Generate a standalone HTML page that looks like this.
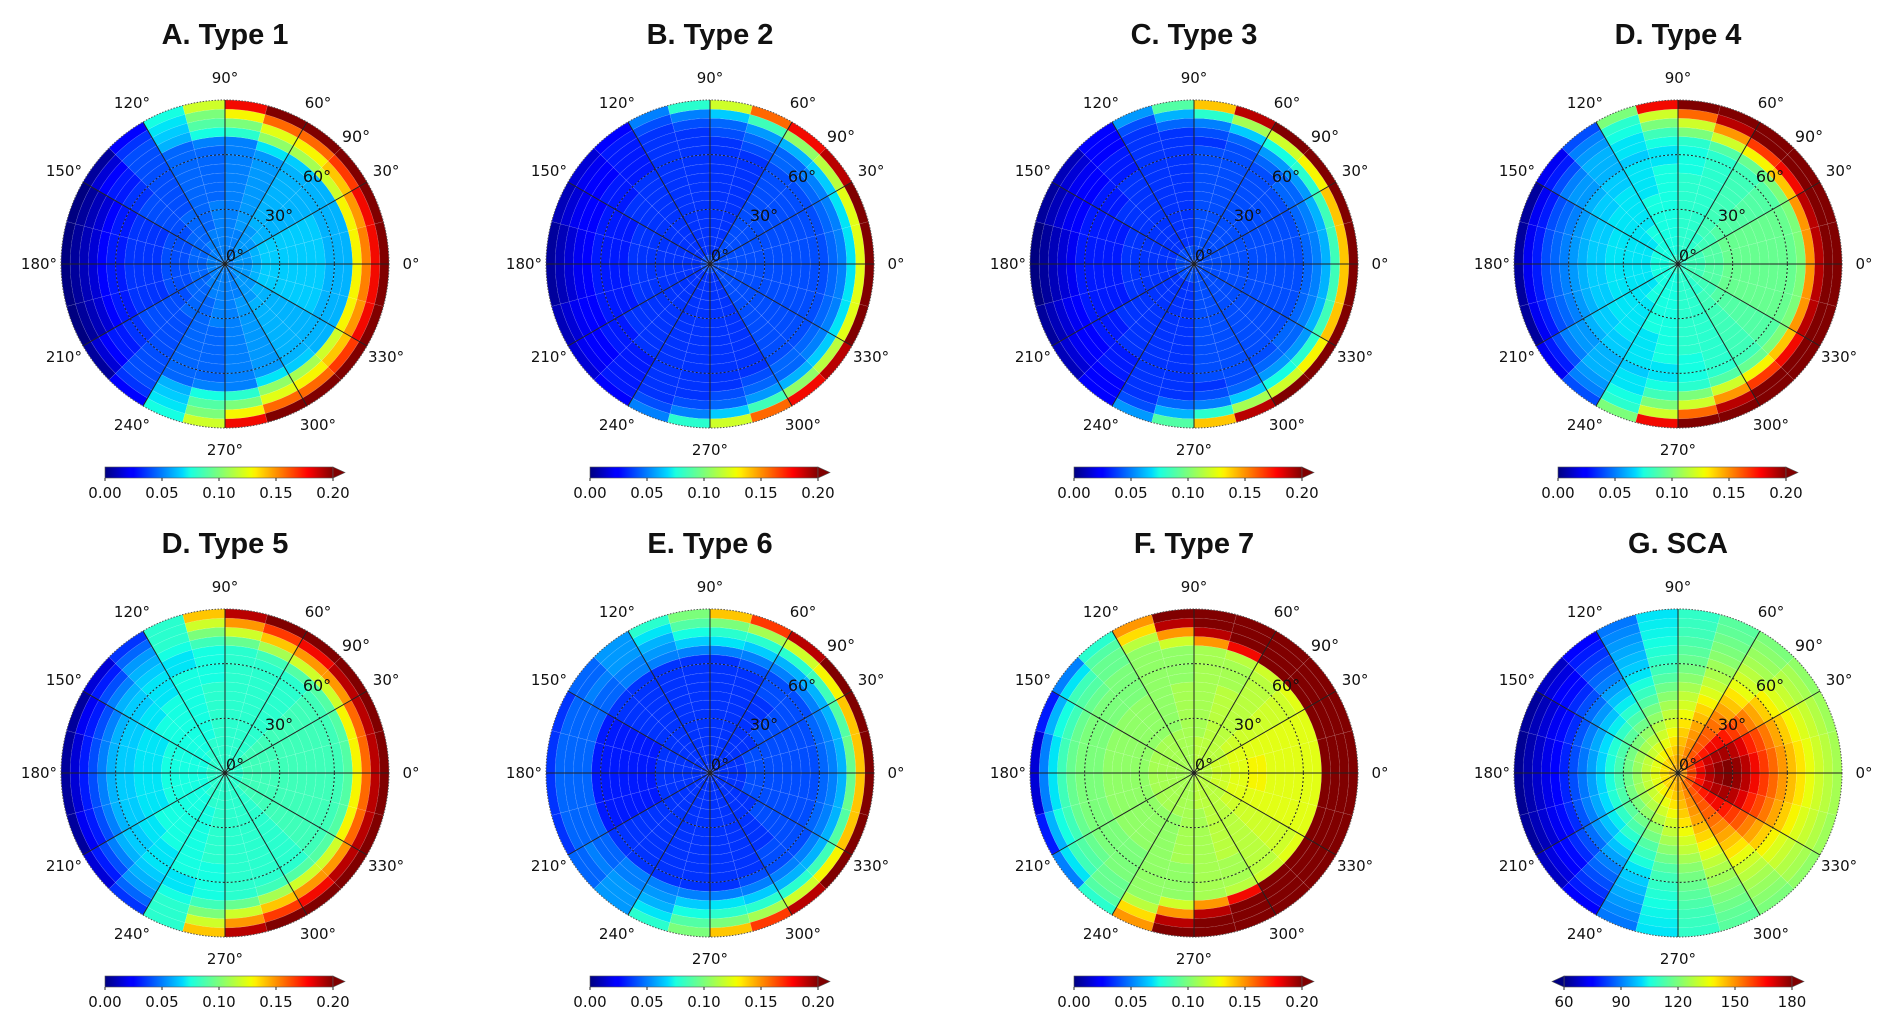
<!DOCTYPE html>
<html><head><meta charset="utf-8">
<style>
html,body{margin:0;padding:0;background:#fff;}
svg{display:block;}
text{font-family:"DejaVu Sans","Liberation Sans",sans-serif;fill:#111;}
.ttl{font-family:"Liberation Sans",sans-serif;}
</style></head>
<body>
<svg id="fig" width="1892" height="1028" viewBox="0 0 1892 1028" xmlns="http://www.w3.org/2000/svg">
<defs>
<linearGradient id="jet" x1="0" x2="1" y1="0" y2="0">
<stop offset="0" stop-color="#000080"/><stop offset="0.11" stop-color="#0000ff"/>
<stop offset="0.125" stop-color="#0000ff"/><stop offset="0.34" stop-color="#00d8ff"/>
<stop offset="0.375" stop-color="#1affe0"/><stop offset="0.5" stop-color="#7cff7a"/>
<stop offset="0.64" stop-color="#f0ff00"/><stop offset="0.66" stop-color="#ffee00"/>
<stop offset="0.89" stop-color="#ff0000"/><stop offset="1" stop-color="#800000"/>
</linearGradient>
</defs>
</svg>
<script>
// ring edges (zenith angle, degrees) and azimuth sector width
const ringEdges = [0,5,10,15,20,25,30,35,40,45,50,55,60,65,70,75,80,85,90];
const sectorWidth = 15;
const angleTicks = [0,30,60,90,120,150,180,210,240,270,300,330];
const radialTicks = ["0°","30°","60°","90°"];
const typeTicks = ["0.00","0.05","0.10","0.15","0.20"];
const scaTicks = ["60","90","120","150","180"];
const titles = ["A. Type 1","B. Type 2","C. Type 3","D. Type 4","D. Type 5","E. Type 6","F. Type 7","G. SCA"];

// values (hundredths for types), rows = rings, cols = sectors 0-15°,...,165-180° (mirrored for lower half)
const dataA = [
[5,5,5,5,5,5,5,5,5,5,5,5],
[5.5,5.5,5.5,5,5,5,5,5,5,5,5,5],
[5.5,5.5,5.5,5.5,5,5,5,5,5,4.5,4.5,4.5],
[6,6,5.5,5.5,5,5,5,5,4.5,4.5,4.5,4.5],
[6.5,6.5,6,5.5,5.5,5,5,4.5,4.5,4.5,4,4],
[6.5,6.5,6,6,5.5,5,5,4.5,4.5,4,4,4],
[6.5,6.5,6,6,5.5,5,5,4.5,4.5,4,4,4],
[6.5,6.5,6,6,5.5,5,4.5,4.5,4,4,3.5,3.5],
[6.5,6.5,6,6,5.5,5,4.5,4.5,4,4,3.5,3.5],
[6.5,6.5,6,6,5.5,5,4.5,4.5,4,4,3.5,3.5],
[6.5,6.5,6,6,5.5,5,4.5,4.5,4,4,3.5,3.5],
[6,6,6,6,5.5,5,4.5,4.5,4,3.5,3,3],
[6,6,6,6,5.5,5,4.5,4.5,4,3.5,3,3],
[6,6,6,6.5,7,5,5,4.5,4,3,2.5,2.5],
[13,13,12,11,10.5,8,7.5,6,4,3,1.5,1.5],
[15.5,15,14,13,12.5,10,9,6.5,4,2.5,1,1],
[18,18,17,16,16,13,10,7,3.5,1.5,0.5,0.5],
[22,22,22,22,21,18,12,7.5,2.5,0.5,0,0]];
const dataB = [
[4,4,4,4,4,4,4,4,4,4,4,4],
[4,4,4,4,3.5,3.5,3.5,3.5,3.5,3.5,3.5,3.5],
[4,4,4,4,3.5,3.5,3.5,3.5,3.5,3.5,3.5,3.5],
[4,4,4,4,3.5,3.5,3.5,3.5,3.5,3.5,3.5,3.5],
[4,4,4,4,3.5,3.5,3.5,3.5,3.5,3.5,3.5,3.5],
[4,4,4,4,3.5,3.5,3.5,3.5,3.5,3.5,3.5,3.5],
[4,4,4,4,3.5,3.5,3.5,3.5,3.5,3.5,3.5,3.5],
[4,4,4,4,3.5,3.5,3.5,3.5,3.5,3.5,3.5,3.5],
[4,4,4,4,3.5,3.5,3.5,3.5,3.5,3.5,3.5,3.5],
[4,4,4,4,3.5,3.5,3.5,3.5,3.5,3.5,3,3],
[4,4,4,4,3.5,3.5,3.5,3.5,3.5,3.5,3,3],
[4,4,4,4,3.5,3.5,3.5,3.5,3.5,3,3,3],
[4,4,4,4,3.5,3.5,3.5,3.5,3,3,3,3],
[4.5,4.5,4.5,4.5,4,3.5,3.5,3.5,3,3,2.5,2.5],
[5,5,5,4.5,4.5,4,3.5,3.5,3,2.5,2.5,2],
[7,7,6.5,6,5.5,4.5,4,3.5,3,2.5,2,1.5],
[12.5,12.5,11.5,10.5,8.5,6.5,5,4,3,2,1.5,1],
[20,20,19,18,16,12,8,5,2.5,1.5,1,0.5]];
const dataC = [
[4,4,4,4,4,4,4,4,4,4,4,4],
[4,4,4,4,4,4,4,4,4,4,4,4],
[4,4,4,4,4,4,3.5,3.5,3.5,3.5,3.5,3.5],
[4,4,4,4,4,4,3.5,3.5,3.5,3.5,3.5,3.5],
[4,4,4,4,4,4,3.5,3.5,3.5,3.5,3.5,3.5],
[4,4,4,4,4,4,3.5,3.5,3.5,3.5,3.5,3.5],
[4,4,4,4,4,4,3.5,3.5,3.5,3.5,3.5,3.5],
[4,4,4,4,4,4,3.5,3.5,3.5,3.5,3.5,3.5],
[4,4,4,4,4,4,3.5,3.5,3.5,3.5,3,3],
[4,4,4,4,4,4,3.5,3.5,3.5,3.5,3,3],
[4,4,4,4,4,4,3.5,3.5,3.5,3,3,3],
[4,4,4,4,4,4,3.5,3.5,3.5,3,3,3],
[4.5,4.5,4.5,4,4,4,3.5,3.5,3,3,3,3],
[5,5,4.5,4.5,4,3.5,3.5,3.5,3,2.5,2.5,2],
[6,6,5.5,5.5,4.5,4,3.5,3.5,3,2.5,2,1.5],
[8.5,8.5,8,7.5,6.5,5,4.5,3.5,2.5,2,1.5,1],
[14,14,13,12,11,8,6,4,2.5,1.5,1,0.5],
[21,21,21,20,19,14,9,5.5,2.5,1,0.5,0]];
const dataD = [
[8,8,8,8,8,8,8,8,8,8,8,8],
[8.5,8.5,8.5,8,8,8,7.5,7.5,7.5,7.5,7.5,7.5],
[8.5,8.5,8.5,8,8,8,7.5,7.5,7.5,7.5,7.5,7.5],
[9,9,8.5,8,8,8,7.5,7.5,7.5,7,7,7],
[9,9,8.5,8.5,8,8,7.5,7.5,7.5,7,7,7],
[9.5,9.5,9,8.5,8,8,7.5,7.5,7,7,7,7],
[9.5,9.5,9,8.5,8,8,7.5,7.5,7,7,7,7],
[9.5,9.5,9,8.5,8,8,7.5,7.5,7,7,7,7],
[9.5,9.5,9,8.5,8,8,7.5,7,7,7,6.5,6.5],
[9.5,9.5,9,8.5,8,8,7.5,7,7,6.5,6.5,6.5],
[9.5,9.5,9,8.5,8,7.5,7.5,7,6.5,6.5,6,6],
[9.5,9.5,9,8.5,8,7.5,7,7,6.5,6,5.5,5.5],
[9.5,9.5,9,8.5,8,7.5,7,6.5,6,5.5,5,5],
[10,10,10,9.5,9,8,7.5,7,6,5.5,4.5,4.5],
[15,15,14,13,12,10,8.5,7,6,5,4,4],
[19,19,18,17,15,12,10,7.5,5.5,4,3,3],
[21,21,21,20,19,16,12,8,5,3,2,2],
[22,22,22,22,22,21,18,10,4,2,0.5,0.5]];
const dataE5 = [
[8,8,8,8,8,8,8,8,8,8,8,8],
[8,8,8,8,8,8,8,8,8,8,8,8],
[8.5,8.5,8.5,8,8,8,8,8,8,7.5,7.5,7.5],
[8.5,8.5,8.5,8,8,8,8,8,7.5,7.5,7.5,7.5],
[8.5,8.5,8.5,8,8,8,8,7.5,7.5,7.5,7.5,7.5],
[8.5,8.5,8.5,8,8,8,8,7.5,7.5,7.5,7.5,7.5],
[8.5,8.5,8.5,8,8,8,8,7.5,7.5,7.5,7.5,7.5],
[8.5,8.5,8.5,8,8,8,8,7.5,7.5,7.5,7,7],
[8.5,8.5,8.5,8,8,8,8,7.5,7.5,7.5,7,7],
[8.5,8.5,8.5,8,8,8,8,7.5,7.5,7,7,7],
[8.5,8.5,8.5,8,8,8,7.5,7.5,7,7,6.5,6.5],
[8.5,8.5,8.5,8,8,8,7.5,7.5,7,6.5,6.5,6.5],
[8.5,8.5,8.5,8,8,8,7.5,7,7,6.5,6,6],
[9,9,9,9,8.5,8,7.5,7,6.5,6,5,5],
[13,13,12,12,11,9.5,8.5,7.5,6,5,4,4],
[16,16,15,15,14,12,10,8,5.5,4,3,3],
[19,19,19,18,17,15,12,8,4.5,3,2,1.5],
[22,22,22,22,21,19,14,8,3.5,1.5,0.5,0.5]];
const dataF6 = [
[3.5,3.5,3.5,3.5,3.5,3.5,3.5,3.5,3.5,3.5,3.5,3.5],
[3.5,3.5,3.5,3.5,3.5,3.5,3.5,3.5,3.5,3.5,3.5,3.5],
[3.5,3.5,3.5,3.5,3.5,3.5,3.5,3.5,3.5,3.5,3.5,3.5],
[3.5,3.5,3.5,3.5,3.5,3.5,3.5,3.5,3.5,3.5,3.5,3.5],
[4,4,3.5,3.5,3.5,3.5,3.5,3.5,3.5,3.5,3.5,3.5],
[4,4,3.5,3.5,3.5,3.5,3.5,3.5,3.5,3.5,3.5,3.5],
[4,4,4,3.5,3.5,3.5,3.5,3.5,3.5,3.5,3,3],
[4,4,4,3.5,3.5,3.5,3.5,3.5,3.5,3.5,3,3],
[4,4,4,3.5,3.5,3.5,3.5,3.5,3.5,3.5,3,3],
[4,4,4,3.5,3.5,3.5,3.5,3.5,3.5,3.5,3,3],
[4,4,4,4,3.5,3.5,3.5,3.5,3.5,3.5,3,3],
[4,4,4,4,3.5,3.5,3.5,3.5,3.5,3.5,3,3],
[4.5,4.5,4,4,4,3.5,3.5,3.5,3.5,3.5,3,3],
[5,5,5,5,5,5,5,5,5,4.5,4.5,4.5],
[6,6,6,6,6.5,7,6.5,5.5,5,4.5,4.5,4.5],
[9.5,9,8.5,8,8,8,7.5,6,5.5,5,4.5,4.5],
[14,14,13,12,11,10,9,7,5.5,4.5,4.5,4.5],
[21,21,20,19,17,14,10,8,5.5,4.5,3.5,3.5]];
const dataG7 = [
[11.5,11.5,11.5,11.5,11.5,11.5,11,11,11,11,11,11],
[11.5,11.5,11.5,11.5,11.5,11.5,11,11,11,11,11,11],
[12,12,11.5,11.5,11.5,11.5,11,11,11,11,11,11],
[12,12,11.5,11.5,11.5,11.5,11,11,11,11,11,11],
[12.5,12.5,12,11.5,11.5,11,11,11,11,11,11,11],
[12.5,12.5,12,11.5,11.5,11,11,10.5,10.5,10.5,10.5,10.5],
[13,12.5,12,11.5,11.5,11,11,10.5,10.5,10.5,10.5,10.5],
[13,12.5,12,11.5,11.5,11,11,10.5,10.5,10.5,10.5,10.5],
[12.5,12.5,12,11.5,11.5,11,11,10.5,10.5,10.5,10.5,10.5],
[12.5,12.5,12,11.5,11.5,11,11,10.5,10.5,10.5,10.5,10.5],
[12.5,12.5,12,11.5,11,11,10.5,10.5,10,10,10,10],
[12.5,12.5,12,11.5,11,11,10.5,10.5,10,10,10,10],
[12.5,12.5,12,11.5,11,11,10.5,10.5,10,10,10,10],
[12.5,12.5,12.5,12,11.5,11,10.5,10.5,10,9.5,9.5,9.5],
[22,22,21,20,18,15,12,10.5,9.5,9,8.5,8.5],
[22,22,22,22,21,19,15,11.5,9.5,8.5,7.5,7],
[22,22,22,22,22,21,19,13.5,9,7,6,5],
[22,22,22,22,22,22,21,15,8,5,3,1.5]];
// SCA in degrees
const dataSCA = [
[150,150,150,150,150,148,148,146,146,145,145,145],
[160,160,158,155,152,148,146,144,142,141,140,140],
[168,167,163,158,152,147,143,140,138,136,135,135],
[174,172,166,158,151,145,140,136,133,131,130,130],
[178,175,168,158,150,143,137,132,128,126,125,124],
[180,176,168,157,148,140,133,128,123,120,119,118],
[178,174,166,155,145,137,130,123,118,115,113,112],
[174,170,162,152,142,133,126,119,113,109,107,106],
[168,165,158,148,138,130,122,114,108,103,101,100],
[162,160,153,144,134,126,118,110,103,98,95,94],
[156,154,148,140,130,122,114,106,98,93,90,89],
[150,148,143,136,127,119,111,102,94,88,85,84],
[145,143,138,132,125,117,109,99,90,84,80,79],
[140,138,134,129,122,115,107,97,87,80,76,75],
[136,134,131,126,120,113,105,95,84,76,72,71],
[132,131,128,124,118,111,104,93,81,73,69,68],
[129,128,126,122,116,110,103,91,78,70,66,65],
[126,125,123,120,115,109,102,89,75,67,63,62]];

const panelData = [dataA,dataB,dataC,dataD,dataE5,dataF6,dataG7,dataSCA];
const colX = [225,710,1194,1678];
const rowY = [264,773];
const R = 164;
const svg = document.getElementById('fig');
const NS = "http://www.w3.org/2000/svg";

// matplotlib 'jet' segment data
const jetR = [[0,0],[0.35,0],[0.66,1],[0.89,1],[1,0.5]];
const jetG = [[0,0],[0.125,0],[0.375,1],[0.64,1],[0.91,0],[1,0]];
const jetB = [[0,0.5],[0.11,1],[0.34,1],[0.65,0],[1,0]];
function seg(s,t){ for(let i=1;i<s.length;i++){ if(t<=s[i][0]){ const a=s[i-1],b=s[i]; return a[1]+(b[1]-a[1])*(t-a[0])/(b[0]-a[0]); } } return s[s.length-1][1]; }
function jet(t){
  t = Math.max(0,Math.min(1,t));
  const c = v => Math.round(255*v);
  return `rgb(${c(seg(jetR,t))},${c(seg(jetG,t))},${c(seg(jetB,t))})`;
}
function mk(tag, attrs, parent){
  const e = document.createElementNS(NS, tag);
  for (const k in attrs) e.setAttribute(k, attrs[k]);
  (parent||svg).appendChild(e);
  return e;
}
function rScale(z){ return z / 90 * R; }
function pt(cx,cy,r,deg){ const a = deg*Math.PI/180; return [cx + r*Math.cos(a), cy - r*Math.sin(a)]; }

panelData.forEach((data, p) => {
  const cx = colX[p%4], cy = rowY[Math.floor(p/4)];
  const isSCA = p === 7;
  const vmin = isSCA ? 60 : 0, vmax = isSCA ? 180 : 20;
  const g = mk('g', {});
  
  

  const title = mk('text', {x:cx, y:cy-220, 'text-anchor':'middle', 'font-size':29, 'font-weight':'bold', 'class':'ttl'}, g);
  title.textContent = titles[p];
  
  

  const nSec = 360 / sectorWidth;
  for (let i = 0; i < ringEdges.length-1; i++) {
    const r0 = rScale(ringEdges[i]), r1 = rScale(ringEdges[i+1]);
    for (let k = 0; k < nSec; k++) {
      const j = k < nSec/2 ? k : nSec-1-k;
      const v = data[i][j];
      const a0 = k*sectorWidth, a1 = (k+1)*sectorWidth;
      const p1 = pt(cx,cy,r1,a0), p2 = pt(cx,cy,r1,a1), p3 = pt(cx,cy,r0,a1), p4 = pt(cx,cy,r0,a0);
      const d = `M${p1[0]},${p1[1]} A${r1},${r1} 0 0 0 ${p2[0]},${p2[1]} L${p3[0]},${p3[1]} ` + (r0>0 ? `A${r0},${r0} 0 0 1 ${p4[0]},${p4[1]} Z` : 'Z');
      const cell = mk('path', {d:d, fill:jet((v-vmin)/(vmax-vmin)), stroke:'rgba(255,255,255,0.15)', 'stroke-width':0.6}, g);
      
      
    }
  }
  [30,60].forEach(z => {
    const c = mk('circle', {cx:cx, cy:cy, r:rScale(z), fill:'none', stroke:'#222', 'stroke-width':1, 'stroke-dasharray':'2,2'}, g);
    
    
  });
  const oc = mk('circle', {cx:cx, cy:cy, r:R, fill:'none', stroke:'#555', 'stroke-width':1, 'stroke-dasharray':'1.5,1.5'}, g);
  
  
  angleTicks.forEach(a => {
    const e = pt(cx,cy,R,a);
    const ln = mk('line', {x1:cx, y1:cy, x2:e[0], y2:e[1], stroke:'#222', 'stroke-width':1}, g);
    
    
    const lp = pt(cx,cy,186,a);
    const t = mk('text', {x:lp[0], y:lp[1]+5, 'text-anchor':'middle', 'font-size':15}, g);
    t.textContent = a + '°';
    
    
  });
  const rOff = [[10,-9],[54,-49],[92,-88],[131,-128]];
  radialTicks.forEach((lab, q) => {
    const t = mk('text', {x:cx+rOff[q][0], y:cy+rOff[q][1]+6, 'text-anchor':'middle', 'font-size':16}, g);
    t.textContent = lab;
    
    
  });
  const by = cy + 203, bh = 11;
  let bx0, bx1;
  if (isSCA) { bx0 = cx-114; bx1 = cx+114; } else { bx0 = cx-120; bx1 = cx+108; }
  const cb = mk('rect', {x:bx0, y:by, width:bx1-bx0, height:bh, fill:'url(#jet)', stroke:'#555', 'stroke-width':0.6}, g);
  
  
  const ra = mk('polygon', {points:`${bx1},${by} ${bx1+12},${by+bh/2} ${bx1},${by+bh}`, fill:'#800000', stroke:'#555', 'stroke-width':0.6}, g);
  
  
  if (isSCA) {
    const la = mk('polygon', {points:`${bx0},${by} ${bx0-12},${by+bh/2} ${bx0},${by+bh}`, fill:'#000080', stroke:'#555', 'stroke-width':0.6}, g);
    
    
  }
  const ticks = isSCA ? scaTicks : typeTicks;
  ticks.forEach((lab, q) => {
    const x = bx0 + (bx1-bx0) * q / (ticks.length-1);
    const tk = mk('line', {x1:x, y1:by+bh, x2:x, y2:by+bh+3, stroke:'#222', 'stroke-width':1}, g);
    
    
    const t = mk('text', {x:x, y:by+bh+20, 'text-anchor':'middle', 'font-size':15}, g);
    t.textContent = lab;
    
    
  });
});
</script>
</body></html>
